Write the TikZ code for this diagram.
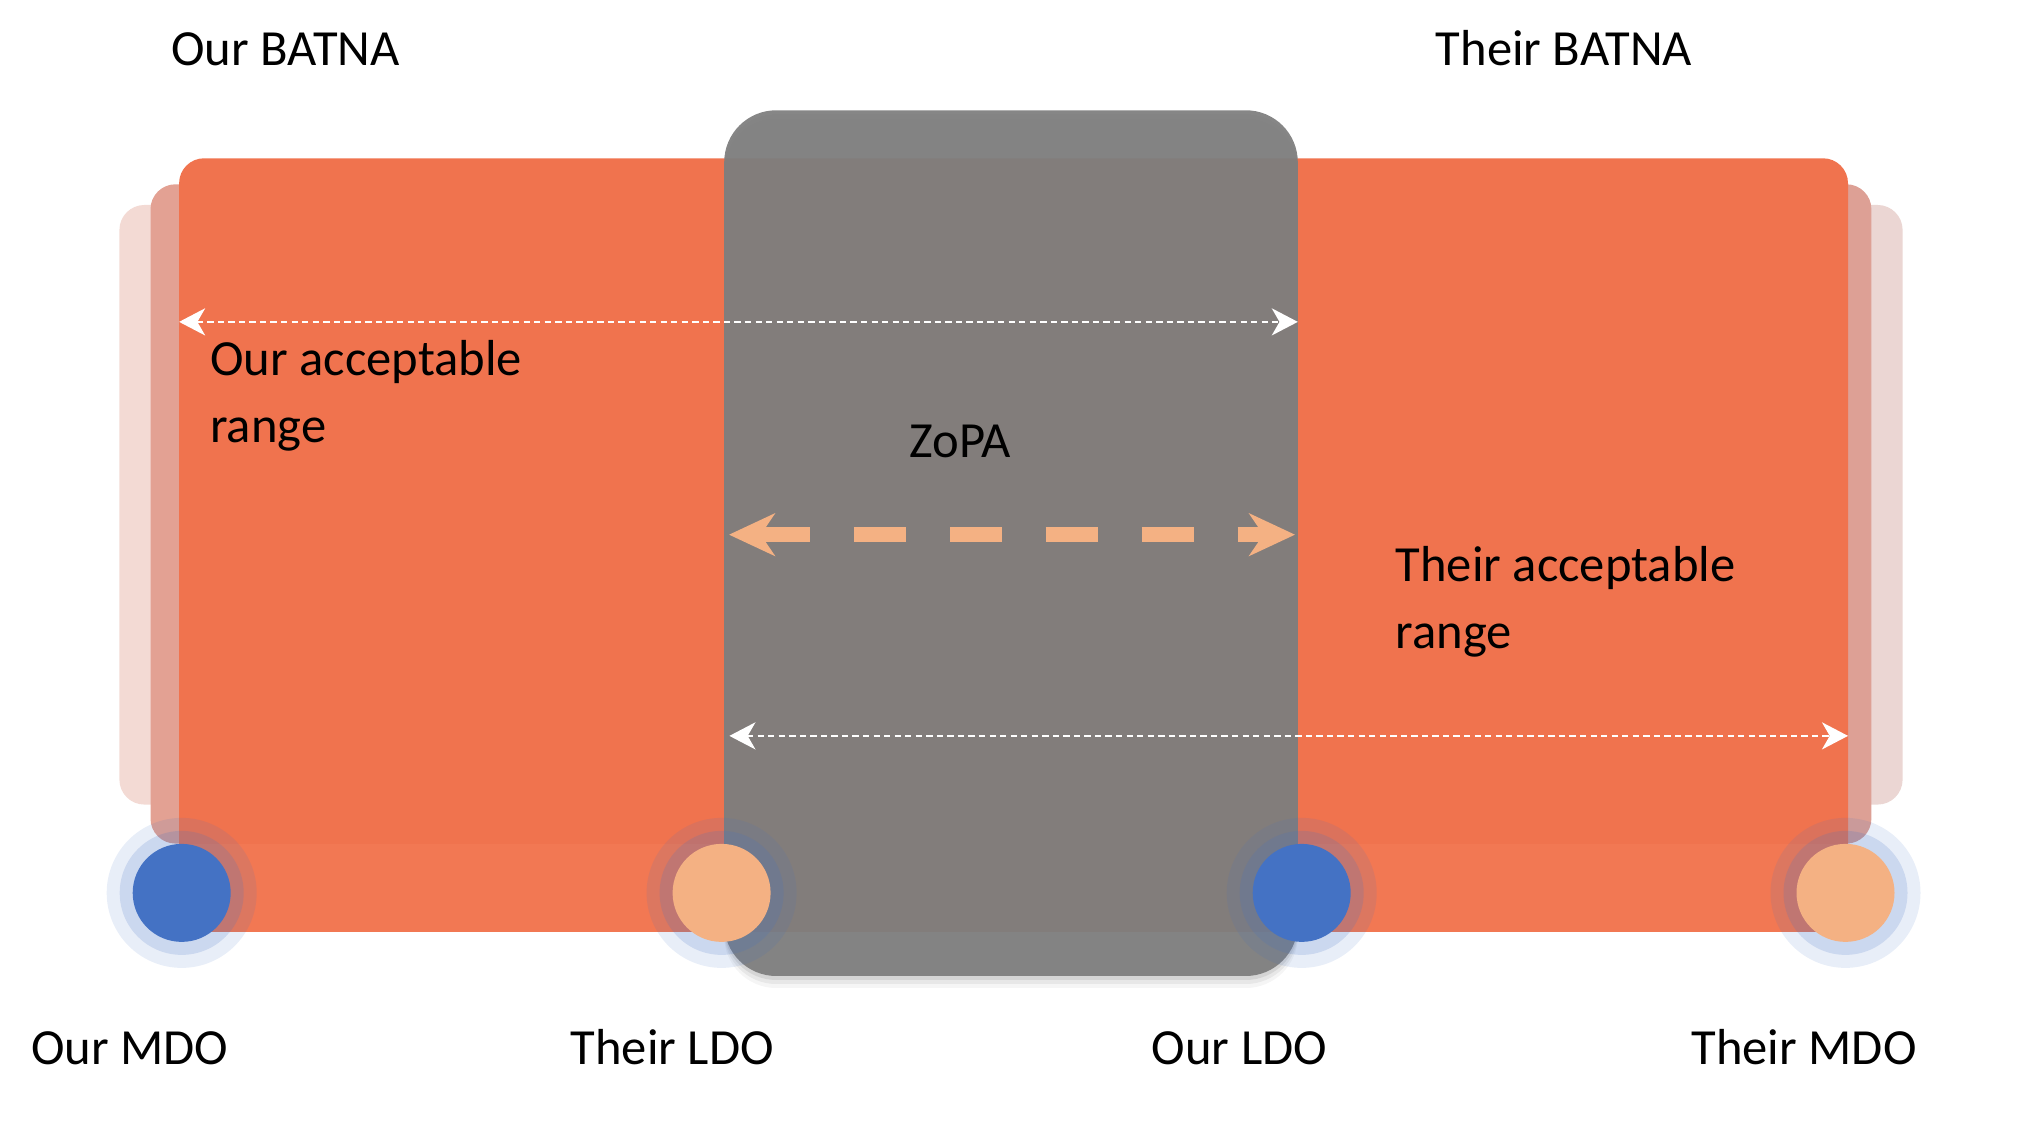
\documentclass[tikz,border=0pt]{standalone}
\usepackage{fontspec}
\setmainfont{Carlito}
\usetikzlibrary{arrows.meta}
\definecolor{rangeorange}{HTML}{F0734E}
\definecolor{bandorange}{HTML}{F27853}
\definecolor{layernear}{HTML}{E3A193}
\definecolor{layerfar}{HTML}{F3DAD4}
\definecolor{rlayernear}{HTML}{DDA095}
\definecolor{rlayerfar}{HTML}{EBD6D3}
\definecolor{zopagray}{HTML}{7F7F7F}
\definecolor{mdoblue}{HTML}{4472C4}
\definecolor{ldopeach}{HTML}{F4B183}

\begin{document}
\begin{tikzpicture}[x=1cm,y=1cm,
  lbl/.style={font=\fontsize{14.4}{19}\selectfont,text=black,inner sep=0pt},
  span/.style={white,line width=0.6pt,dash pattern=on 1.8pt off 1.2pt,
    {Stealth[length=7.4pt,width=7.7pt,inset=2.2pt]}-{Stealth[length=7.4pt,width=7.7pt,inset=2.2pt]}},
  zopaspan/.style={ldopeach,line width=4.4pt,dash pattern=on 14.8pt off 12.5pt,
    {Stealth[length=13pt,width=12pt,inset=4pt]}-{Stealth[length=13pt,width=12pt,inset=4pt]}},
  dot/.style={circle,minimum size=0.98cm,inner sep=0pt}]
  \useasboundingbox (0,0) rectangle (20.35,11.41);
  % layers behind the ranges
  \fill[layerfar,rounded corners=0.25cm] (1.194,3.364) rectangle (10,9.36);
  \fill[rlayerfar,rounded corners=0.25cm] (10,3.364) rectangle (19.026,9.36);
  \fill[layernear,rounded corners=0.25cm] (1.505,2.974) rectangle (10,9.567);
  \fill[rlayernear,rounded corners=0.25cm] (10,2.974) rectangle (18.714,9.567);
  % the ranges
  \fill[rangeorange,rounded corners=0.25cm] (1.791,2.5) rectangle (18.48,9.827);
  \fill[bandorange] (1.791,2.092) rectangle (18.48,2.974);
  % zopa, with a soft shadow below
  \foreach \d/\o in {0.12/0.04,0.08/0.06,0.04/0.08}
    \fill[black,opacity=\o,rounded corners=0.52cm] (7.242,1.65-\d) rectangle (12.978,10.307-\d);
  \fill[zopagray,opacity=0.95,rounded corners=0.52cm] (7.242,1.65) rectangle (12.978,10.307);

  % points
  \foreach \name/\x/\col in {ourmdo/1.817/mdoblue,theirldo/7.216/ldopeach,ourldo/13.017/mdoblue,theirmdo/18.455/ldopeach}{
    \fill[mdoblue,opacity=0.12] (\x,2.481) circle (0.75);
    \fill[mdoblue,opacity=0.18] (\x,2.481) circle (0.62);
    \node[dot,fill=\col] (\name) at (\x,2.481) {};
  }

  % spans
  \coordinate (ourlo) at (1.791,8.191);
  \coordinate (ourhi) at (12.978,8.191);
  \coordinate (theirlo) at (7.294,4.051);
  \coordinate (theirhi) at (18.48,4.051);
  \coordinate (zopalo) at (7.29,6.063);
  \coordinate (zopahi) at (12.95,6.063);
  \draw[span] (ourlo) -- (ourhi);
  \draw[span] (theirlo) -- (theirhi);
  \draw[zopaspan] (zopalo) -- (zopahi);

  % labels
  \node[lbl,anchor=base] (ourbatna) at (2.855,10.757) {Our BATNA};
  \node[lbl,anchor=base] (theirbatna) at (15.639,10.757) {Their BATNA};
  \node[lbl,anchor=west,align=left] (ouracc) at (2.095,7.45) {Our acceptable\\range};
  \node[lbl,anchor=base] (zopa) at (9.604,6.837) {ZoPA};
  \node[lbl,anchor=west,align=left] (theiracc) at (13.95,5.39) {Their acceptable\\range};
  \node[lbl,anchor=base] (ourmdolbl) at (1.298,0.764) {Our MDO};
  \node[lbl,anchor=base] (theirldolbl) at (6.723,0.764) {Their LDO};
  \node[lbl,anchor=base] (ourldolbl) at (12.394,0.764) {Our LDO};
  \node[lbl,anchor=base] (theirmdolbl) at (18.04,0.764) {Their MDO};
\end{tikzpicture}
\end{document}
